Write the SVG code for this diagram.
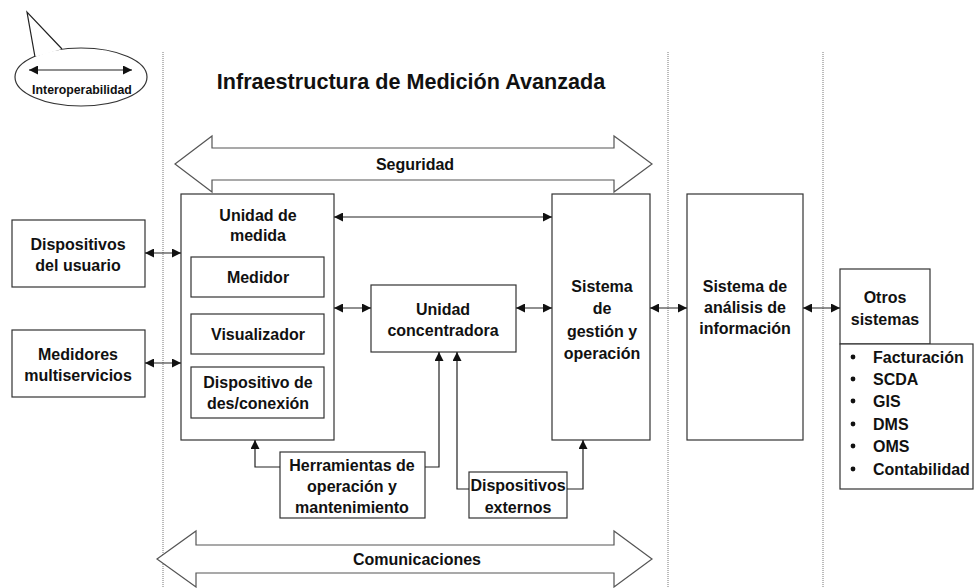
<svg xmlns="http://www.w3.org/2000/svg" width="974" height="588" viewBox="0 0 974 588">
<style>
.bx{fill:#fff;stroke:#333;stroke-width:1.2}
.t{font-family:"Liberation Sans",Arial,sans-serif;font-weight:bold;font-size:16px;fill:#111;text-anchor:middle}
.ln{fill:none;stroke:#222;stroke-width:1.2}
.dot{stroke:#777;stroke-width:1;stroke-dasharray:1 1}
.big{fill:#fff;stroke:#555;stroke-width:1.2}
</style>
<defs>
<marker id="ah" viewBox="0 0 10 10" refX="10" refY="5" markerWidth="12" markerHeight="9" markerUnits="userSpaceOnUse" orient="auto-start-reverse">
<path d="M0,0 L10,5 L0,10 z" fill="#111"/>
</marker>
</defs>
<rect width="974" height="588" fill="#fff"/>
<g id="separators">
<line class="dot" x1="163" y1="52" x2="163" y2="588"/>
<line class="dot" x1="668" y1="52" x2="668" y2="588"/>
<line class="dot" x1="823" y1="52" x2="823" y2="588"/>
</g>
<g id="bubble">
<ellipse cx="81" cy="77" rx="66" ry="29" fill="#fff" stroke="#333" stroke-width="1.2"/>
<polygon points="35,57 27,12 62,49" fill="#fff"/>
<polyline points="35,57 27,12 62,49" class="ln"/>
<line x1="29" y1="70" x2="132" y2="70" class="ln" marker-start="url(#ah)" marker-end="url(#ah)"/>
<text class="t" x="82" y="94" style="font-size:12.3px">Interoperabilidad</text>
</g>
<text id="title" class="t" x="411" y="89" style="font-size:21.6px">Infraestructura de Medición Avanzada</text>
<g id="seguridad">
<polygon class="big" points="175,164 212,136 212,148 614,148 614,136 652,164 614,192 614,180 212,180 212,192"/>
<text class="t" x="415" y="170">Seguridad</text>
</g>
<g id="comunicaciones">
<polygon class="big" points="157,559 196,531 196,545 614,545 614,531 652,559 614,587 614,573 196,573 196,587"/>
<text class="t" x="417" y="565">Comunicaciones</text>
</g>
<g id="dispositivos-usuario">
<rect class="bx" x="12" y="220" width="133" height="67"/>
<text class="t" x="78" y="250">Dispositivos</text>
<text class="t" x="78" y="271">del usuario</text>
</g>
<g id="medidores-multiservicios">
<rect class="bx" x="12" y="330" width="133" height="67"/>
<text class="t" x="78" y="360">Medidores</text>
<text class="t" x="78" y="381">multiservicios</text>
</g>
<g id="unidad-medida">
<rect class="bx" x="181" y="194" width="153" height="246"/>
<text class="t" x="258" y="221">Unidad de</text>
<text class="t" x="258" y="241">medida</text>
<rect class="bx" x="191" y="257" width="133" height="40"/>
<text class="t" x="258" y="283">Medidor</text>
<rect class="bx" x="191" y="314" width="133" height="40"/>
<text class="t" x="258" y="340">Visualizador</text>
<rect class="bx" x="191" y="367" width="133" height="51"/>
<text class="t" x="258" y="388">Dispositivo de</text>
<text class="t" x="258" y="409">des/conexión</text>
</g>
<g id="unidad-concentradora">
<rect class="bx" x="371" y="285" width="145" height="67"/>
<text class="t" x="443" y="315">Unidad</text>
<text class="t" x="443" y="336">concentradora</text>
</g>
<g id="sistema-gestion">
<rect class="bx" x="552" y="194" width="98" height="246"/>
<text class="t" x="602" y="292">Sistema</text>
<text class="t" x="602" y="314">de</text>
<text class="t" x="602" y="337">gestión y</text>
<text class="t" x="602" y="359">operación</text>
</g>
<g id="sistema-analisis">
<rect class="bx" x="687" y="194" width="116" height="246"/>
<text class="t" x="745" y="292">Sistema de</text>
<text class="t" x="745" y="313">análisis de</text>
<text class="t" x="745" y="334">información</text>
</g>
<g id="otros-sistemas">
<rect class="bx" x="840" y="269" width="90" height="75"/>
<text class="t" x="885" y="303">Otros</text>
<text class="t" x="885" y="325">sistemas</text>
<rect class="bx" x="840" y="344" width="133" height="145"/>
<g class="t" style="text-anchor:start">
<text x="873" y="363">Facturación</text>
<text x="873" y="385">SCDA</text>
<text x="873" y="407">GIS</text>
<text x="873" y="430">DMS</text>
<text x="873" y="452">OMS</text>
<text x="873" y="475">Contabilidad</text>
</g>
<g fill="#111">
<circle cx="853" cy="357" r="2.4"/>
<circle cx="853" cy="379" r="2.4"/>
<circle cx="853" cy="401" r="2.4"/>
<circle cx="853" cy="424" r="2.4"/>
<circle cx="853" cy="446" r="2.4"/>
<circle cx="853" cy="469" r="2.4"/>
</g>
</g>
<g id="herramientas">
<rect class="bx" x="280" y="452" width="145" height="66"/>
<text class="t" x="352" y="471">Herramientas de</text>
<text class="t" x="352" y="492">operación y</text>
<text class="t" x="352" y="513">mantenimiento</text>
</g>
<g id="dispositivos-externos">
<rect class="bx" x="469" y="472" width="98" height="46"/>
<text class="t" x="518" y="491">Dispositivos</text>
<text class="t" x="518" y="513">externos</text>
</g>
<g id="connectors">
<line class="ln" x1="145" y1="253" x2="181" y2="253" marker-start="url(#ah)" marker-end="url(#ah)"/>
<line class="ln" x1="145" y1="363" x2="181" y2="363" marker-start="url(#ah)" marker-end="url(#ah)"/>
<line class="ln" x1="334" y1="217" x2="552" y2="217" marker-start="url(#ah)" marker-end="url(#ah)"/>
<line class="ln" x1="334" y1="308" x2="371" y2="308" marker-start="url(#ah)" marker-end="url(#ah)"/>
<line class="ln" x1="516" y1="308" x2="552" y2="308" marker-start="url(#ah)" marker-end="url(#ah)"/>
<line class="ln" x1="650" y1="308" x2="687" y2="308" marker-start="url(#ah)" marker-end="url(#ah)"/>
<line class="ln" x1="803" y1="308" x2="840" y2="308" marker-start="url(#ah)" marker-end="url(#ah)"/>
<polyline class="ln" points="280,467 255,467 255,440" marker-end="url(#ah)"/>
<polyline class="ln" points="425,467 439,467 439,352" marker-end="url(#ah)"/>
<polyline class="ln" points="469,489 457,489 457,352" marker-end="url(#ah)"/>
<polyline class="ln" points="567,489 583,489 583,440" marker-end="url(#ah)"/>
</g>
</svg>
